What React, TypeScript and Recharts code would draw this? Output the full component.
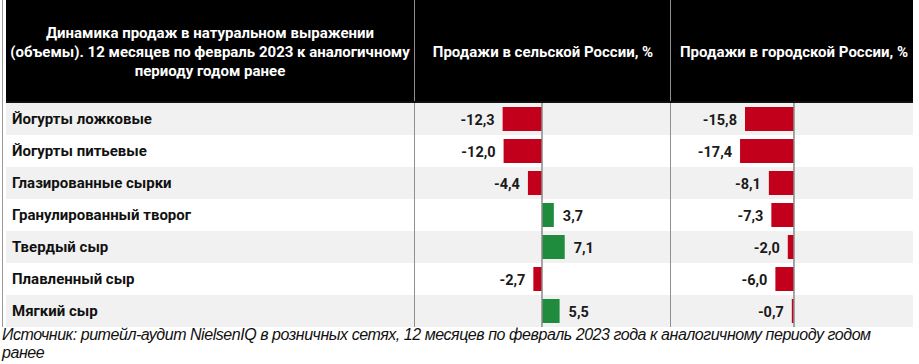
import { Bar, BarChart, Cell, LabelList, ReferenceLine, XAxis, YAxis } from 'recharts'

const categories = [
  'Йогурты ложковые',
  'Йогурты питьевые',
  'Глазированные сырки',
  'Гранулированный творог',
  'Твердый сыр',
  'Плавленный сыр',
  'Мягкий сыр',
]
const ruralValues = [-12.3, -12.0, -4.4, 3.7, 7.1, -2.7, 5.5]
const urbanValues = [-15.8, -17.4, -8.1, -7.3, -2.0, -6.0, -0.7]

const titleLines = [
  'Динамика продаж в натуральном выражении',
  '(объемы). 12 месяцев по февраль 2023 к аналогичному',
  'периоду годом ранее',
]
const ruralTitle = 'Продажи в сельской России, %'
const urbanTitle = 'Продажи в городской России, %'
const footerText =
  'Источник: ритейл-аудит NielsenIQ в розничных сетях, 12 месяцев по февраль 2023 года к аналогичному периоду годом ранее'

const RED = '#c3001b'
const GREEN = '#1f8b3d'
const FONT = 'Roboto, "Noto Sans", sans-serif'
const ROW_H = 32
const TOP = 103

const fmt = (v: number) => v.toFixed(1).replace('.', ',')

function ValueLabel(props: any) {
  const { x, y, width, height, value } = props
  const left = Math.min(x, x + width)
  const right = Math.max(x, x + width)
  const neg = value < 0
  return (
    <text
      x={neg ? left - 8 : right + 9}
      y={y + height / 2 + 1}
      textAnchor={neg ? 'end' : 'start'}
      dominantBaseline="central"
      fontFamily={FONT}
      fontWeight={700}
      fontSize={14.5}
      fill="#1a1a1a"
    >
      {fmt(value)}
    </text>
  )
}

function Column({ values, width, domain }: { values: number[]; width: number; domain: [number, number] }) {
  const data = categories.map((name, i) => ({ name, value: values[i] }))
  return (
    <BarChart
      width={width}
      height={ROW_H * categories.length}
      data={data}
      layout="vertical"
      margin={{ top: 0, right: 0, bottom: 0, left: 0 }}
      barCategoryGap={4}
    >
      <XAxis type="number" domain={domain} hide />
      <YAxis type="category" dataKey="name" hide />
      <Bar dataKey="value" barSize={24} isAnimationActive={false}>
        {data.map((d) => (
          <Cell key={d.name} fill={d.value < 0 ? RED : GREEN} />
        ))}
        <LabelList dataKey="value" content={ValueLabel} />
      </Bar>
      <ReferenceLine x={0} stroke="#8a8a8a" strokeWidth={1.5} />
    </BarChart>
  )
}

export default function App() {
  const headerText = { color: '#fff', fontFamily: FONT, fontWeight: 700, fontSize: 15, lineHeight: '19px' }
  return (
    <div style={{ position: 'fixed', left: 0, top: 0, width: 919, height: 364, background: '#fff', overflow: 'hidden' }}>
      {/* header */}
      <div style={{ position: 'absolute', left: 6, top: 0, width: 907, height: TOP, background: '#000' }} />
      <div
        style={{
          ...headerText,
          position: 'absolute',
          left: 6,
          top: 24,
          width: 408,
          textAlign: 'center',
          whiteSpace: 'nowrap',
        }}
      >
        {titleLines.map((l) => (
          <div key={l}>{l}</div>
        ))}
      </div>
      <div style={{ ...headerText, position: 'absolute', left: 414, top: 43, width: 258, textAlign: 'center', whiteSpace: 'nowrap' }}>
        {ruralTitle}
      </div>
      <div style={{ ...headerText, position: 'absolute', left: 670, top: 43, width: 248, textAlign: 'center', whiteSpace: 'nowrap' }}>
        {urbanTitle}
      </div>

      {/* rows */}
      {categories.map((c, i) => (
        <div
          key={c}
          style={{
            position: 'absolute',
            left: 6,
            top: TOP + i * ROW_H,
            width: 907,
            height: ROW_H,
            background: i % 2 === 0 ? '#f1f1f1' : '#fff',
          }}
        >
          <div
            style={{
              position: 'absolute',
              left: 6,
              top: 0,
              lineHeight: `${ROW_H}px`,
              fontFamily: FONT,
              fontWeight: 700,
              fontSize: 15,
              color: '#111',
              whiteSpace: 'nowrap',
            }}
          >
            {c}
          </div>
        </div>
      ))}

      {/* grid lines */}
      <div style={{ position: 'absolute', left: 2, top: 0, width: 1, height: 327, background: '#9a9a9a' }} />
      <div style={{ position: 'absolute', left: 414, top: 0, width: 1, height: 327, background: '#8f8f8f' }} />
      <div style={{ position: 'absolute', left: 670, top: 0, width: 1, height: 327, background: '#8f8f8f' }} />
      <div style={{ position: 'absolute', left: 6, top: TOP - 2, width: 907, height: 2, background: '#111' }} />

      <div style={{ position: 'absolute', left: 414, top: TOP }}>
        <Column values={ruralValues} width={256} domain={[-40, 40]} />
      </div>
      <div style={{ position: 'absolute', left: 670, top: TOP }}>
        <Column values={urbanValues} width={243} domain={[-40, 38.4]} />
      </div>

      {/* footer */}
      <div
        style={{
          position: 'absolute',
          left: 2,
          top: 326,
          width: 880,
          fontFamily: '"Liberation Sans Narrow", "Liberation Sans", sans-serif',
          fontStyle: 'italic',
          fontSize: 16,
          letterSpacing: -0.45,
          lineHeight: '18px',
          color: '#111',
        }}
      >
        {footerText}
      </div>
    </div>
  )
}
